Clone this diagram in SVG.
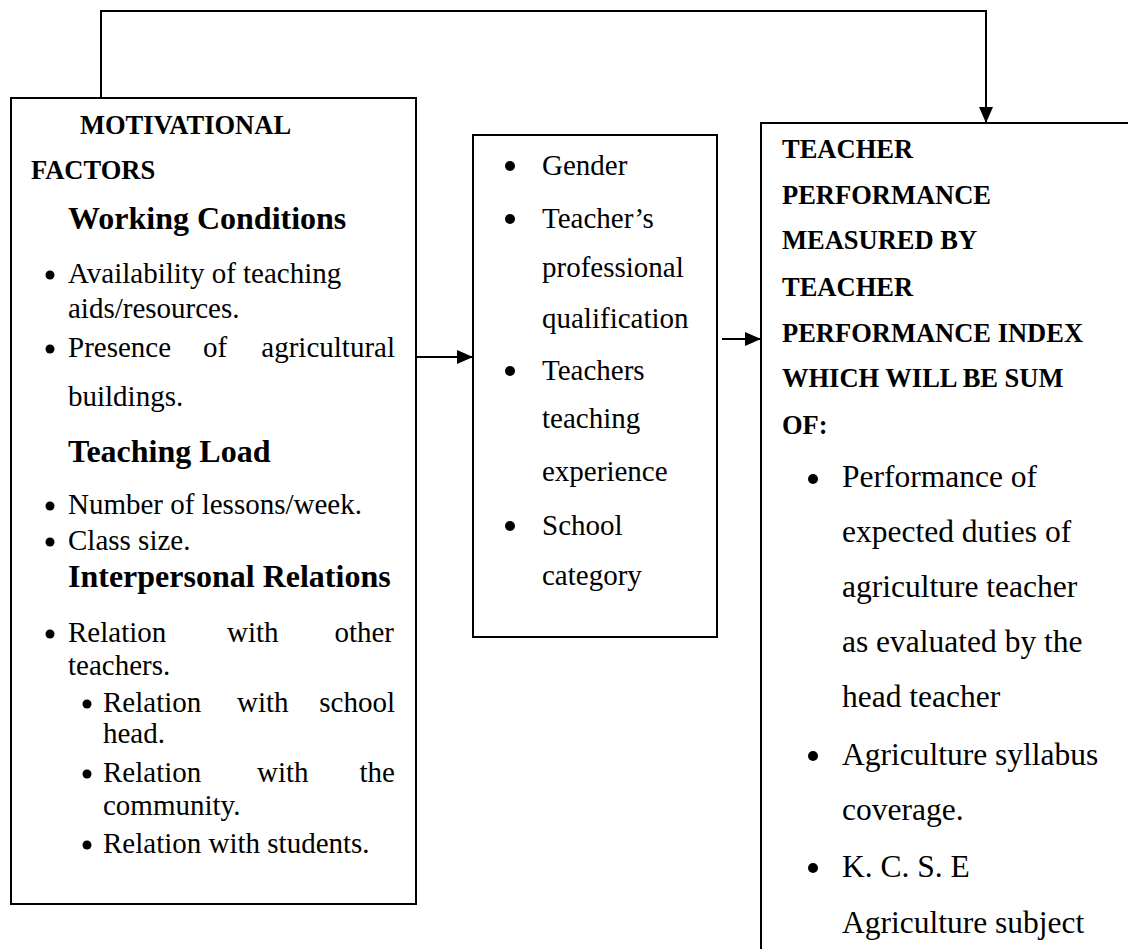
<svg xmlns="http://www.w3.org/2000/svg" width="1128" height="949" viewBox="0 0 1128 949">
  <style>
    .box { fill: #ffffff; stroke: #000000; stroke-width: 2; }
    .wire { fill: none; stroke: #000000; stroke-width: 2; }
    .dot { fill: #000000; }
    text { font-family: "Liberation Serif", "Times New Roman", serif; fill: #000000; }
    .cap { font-size: 26.5px; font-weight: bold; }
    .sub { font-size: 32px; font-weight: bold; }
    .lt { font-size: 29px; }
    .mt { font-size: 29px; }
    .rt { font-size: 31.5px; }
  </style>
  <defs>
    <marker id="arrow" viewBox="0 0 16 14" refX="16" refY="7" markerWidth="16" markerHeight="14" markerUnits="userSpaceOnUse" orient="auto">
      <path d="M0,0 L16,7 L0,14 Z" fill="#000000"/>
    </marker>
  </defs>

  <rect width="1128" height="949" fill="#ffffff"/>

  <!-- Motivational factors -->
  <g id="motivational-factors">
    <rect class="box" x="11" y="98" width="405" height="806"/>
    <text class="cap" x="80" y="134">MOTIVATIONAL</text>
    <text class="cap" x="31" y="179">FACTORS</text>

    <text class="sub" x="68" y="229">Working Conditions</text>
    <circle class="dot" cx="50" cy="275" r="4.5"/>
    <text class="lt" x="68" y="283">Availability of teaching</text>
    <text class="lt" x="68" y="318">aids/resources.</text>
    <circle class="dot" cx="50" cy="349" r="4.5"/>
    <text class="lt" x="68" y="357">Presence</text>
    <text class="lt" x="203" y="357">of</text>
    <text class="lt" x="395" y="357" text-anchor="end">agricultural</text>
    <text class="lt" x="68" y="406">buildings.</text>

    <text class="sub" x="68" y="462">Teaching Load</text>
    <circle class="dot" cx="50" cy="506" r="4.5"/>
    <text class="lt" x="68" y="514">Number of lessons/week.</text>
    <circle class="dot" cx="50" cy="542" r="4.5"/>
    <text class="lt" x="68" y="550">Class size.</text>

    <text class="sub" x="68" y="587">Interpersonal Relations</text>
    <circle class="dot" cx="50" cy="634" r="4.5"/>
    <text class="lt" x="68" y="642">Relation</text>
    <text class="lt" x="227" y="642">with</text>
    <text class="lt" x="394" y="642" text-anchor="end">other</text>
    <text class="lt" x="68" y="675">teachers.</text>

    <circle class="dot" cx="87" cy="704" r="4.5"/>
    <text class="lt" x="103" y="712">Relation</text>
    <text class="lt" x="237" y="712">with</text>
    <text class="lt" x="395" y="712" text-anchor="end">school</text>
    <text class="lt" x="103" y="743">head.</text>
    <circle class="dot" cx="87" cy="774" r="4.5"/>
    <text class="lt" x="103" y="782">Relation</text>
    <text class="lt" x="257" y="782">with</text>
    <text class="lt" x="395" y="782" text-anchor="end">the</text>
    <text class="lt" x="103" y="815">community.</text>
    <circle class="dot" cx="87" cy="845" r="4.5"/>
    <text class="lt" x="103" y="853">Relation with students.</text>
  </g>

  <!-- Intervening variables -->
  <g id="teacher-characteristics">
    <rect class="box" x="473" y="135" width="244" height="502"/>
    <circle class="dot" cx="510" cy="166" r="5"/>
    <text class="mt" x="542" y="175">Gender</text>
    <circle class="dot" cx="510" cy="219" r="5"/>
    <text class="mt" x="542" y="228">Teacher’s</text>
    <text class="mt" x="542" y="277">professional</text>
    <text class="mt" x="542" y="328">qualification</text>
    <circle class="dot" cx="510" cy="371" r="5"/>
    <text class="mt" x="542" y="380">Teachers</text>
    <text class="mt" x="542" y="428">teaching</text>
    <text class="mt" x="542" y="481">experience</text>
    <circle class="dot" cx="510" cy="526" r="5"/>
    <text class="mt" x="542" y="535">School</text>
    <text class="mt" x="542" y="585">category</text>
  </g>

  <!-- Teacher performance -->
  <g id="teacher-performance">
    <rect class="box" x="761" y="123" width="400" height="860"/>
    <text class="cap" x="782" y="158">TEACHER</text>
    <text class="cap" x="782" y="204">PERFORMANCE</text>
    <text class="cap" x="782" y="249">MEASURED BY</text>
    <text class="cap" x="782" y="296">TEACHER</text>
    <text class="cap" x="782" y="342">PERFORMANCE INDEX</text>
    <text class="cap" x="782" y="387">WHICH WILL BE SUM</text>
    <text class="cap" x="782" y="434">OF:</text>

    <circle class="dot" cx="813" cy="479" r="5"/>
    <text class="rt" x="842" y="487">Performance of</text>
    <text class="rt" x="842" y="542">expected duties of</text>
    <text class="rt" x="842" y="597">agriculture teacher</text>
    <text class="rt" x="842" y="652">as evaluated by the</text>
    <text class="rt" x="842" y="707">head teacher</text>
    <circle class="dot" cx="813" cy="756" r="5"/>
    <text class="rt" x="842" y="765">Agriculture syllabus</text>
    <text class="rt" x="842" y="820">coverage.</text>
    <circle class="dot" cx="813" cy="868" r="5"/>
    <text class="rt" x="842" y="877">K. C. S. E</text>
    <text class="rt" x="842" y="933">Agriculture subject</text>
  </g>

  <!-- Connectors -->
  <g id="connectors">
    <path class="wire" d="M101,98 V11 H986 V123" marker-end="url(#arrow)"/>
    <path class="wire" d="M416,357 H473" marker-end="url(#arrow)"/>
    <path class="wire" d="M722,339 H761" marker-end="url(#arrow)"/>
  </g>
</svg>
